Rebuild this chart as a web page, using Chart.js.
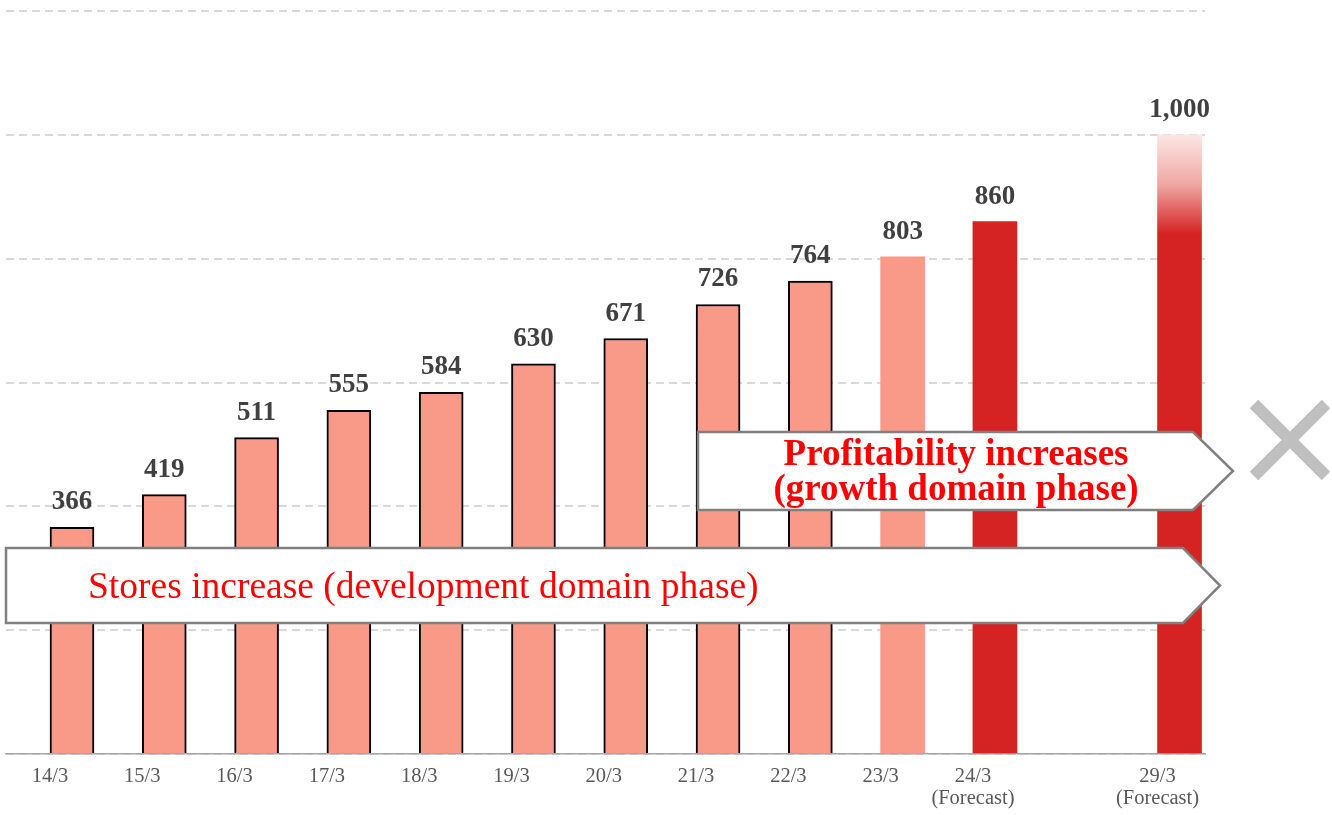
<!DOCTYPE html>
<html>
<head>
<meta charset="utf-8">
<script src="https://cdn.jsdelivr.net/npm/chart.js@4/dist/chart.umd.min.js"></script>
<style>
  html, body { margin: 0; padding: 0; background: #ffffff; }
  #wrap { width: 1332px; height: 815px; position: relative; }
</style>
</head>
<body>
<div id="wrap"><canvas id="c"></canvas></div>
<script>
// Fiscal years (an empty slot separates the near-term forecast from the long-term target)
const categories = ['14/3', '15/3', '16/3', '17/3', '18/3', '19/3', '20/3', '21/3', '22/3', '23/3', '24/3', '', '29/3'];
const tickNotes  = ['', '', '', '', '', '', '', '', '', '', '(Forecast)', '', '(Forecast)'];
// Number of stores
const storeCounts = [366, 419, 511, 555, 584, 630, 671, 726, 764, 803, 860, null, 1000];
// Bar style groups: results (outlined), latest result, forecast, long-term target
const barKinds = ['result', 'result', 'result', 'result', 'result', 'result', 'result', 'result', 'result', 'latest', 'forecast', null, 'target'];
const yTicks = [0, 200, 400, 600, 800, 1000, 1200];

const SERIF = '"Liberation Serif", "Times New Roman", serif';
const SALMON = '#F99A89';
const RED = '#D52323';

function barFill(ctx) {
  const kind = barKinds[ctx.dataIndex];
  if (kind === 'forecast') return RED;
  if (kind === 'target') {
    const chart = ctx.chart;
    const y = chart.scales.y;
    if (!y || !chart.chartArea) return RED;
    const top = y.getPixelForValue(storeCounts[ctx.dataIndex]);
    const bottom = y.getPixelForValue(0);
    const g = chart.ctx.createLinearGradient(0, top, 0, bottom);
    g.addColorStop(0, '#FCE6E3');
    g.addColorStop(0.08, '#EFA7A3');
    g.addColorStop(0.16, RED);
    g.addColorStop(1, RED);
    return g;
  }
  return SALMON;
}

// Value labels above each bar
const valueLabels = {
  id: 'valueLabels',
  afterDatasetsDraw(chart) {
    const ctx = chart.ctx;
    const meta = chart.getDatasetMeta(0);
    ctx.save();
    ctx.font = 'bold 27px ' + SERIF;
    ctx.fillStyle = '#404040';
    ctx.textAlign = 'center';
    ctx.textBaseline = 'alphabetic';
    meta.data.forEach((bar, i) => {
      const v = storeCounts[i];
      if (v == null) return;
      ctx.fillText(v.toLocaleString('en-US'), bar.x, bar.y - 18);
    });
    ctx.restore();
  }
};

// Phase arrows and the closing mark on the right
function arrowPath(ctx, left, top, bottom, shoulder, tip) {
  const mid = (top + bottom) / 2;
  ctx.beginPath();
  ctx.moveTo(left, top);
  ctx.lineTo(shoulder, top);
  ctx.lineTo(tip, mid);
  ctx.lineTo(shoulder, bottom);
  ctx.lineTo(left, bottom);
  ctx.closePath();
}

const phaseArrows = {
  id: 'phaseArrows',
  afterDraw(chart) {
    const ctx = chart.ctx;
    ctx.save();
    ctx.lineWidth = 2.5;
    ctx.strokeStyle = '#808080';
    ctx.fillStyle = '#ffffff';
    ctx.lineJoin = 'miter';

    // development phase
    arrowPath(ctx, 6, 548, 623, 1183, 1220);
    ctx.fill();
    ctx.stroke();
    ctx.fillStyle = '#FF0000';
    ctx.font = '37.5px ' + SERIF;
    ctx.textAlign = 'left';
    ctx.textBaseline = 'alphabetic';
    ctx.fillText('Stores increase (development domain phase)', 88, 598);

    // growth phase
    ctx.fillStyle = '#ffffff';
    arrowPath(ctx, 698, 432, 510, 1193, 1233);
    ctx.fill();
    ctx.stroke();
    ctx.fillStyle = '#FF0000';
    ctx.font = 'bold 37px ' + SERIF;
    ctx.textAlign = 'center';
    ctx.fillText('Profitability increases', 956, 465);
    ctx.fillText('(growth domain phase)', 956, 500);

    // multiplication mark
    ctx.strokeStyle = '#BFBFBF';
    ctx.lineWidth = 12;
    ctx.lineCap = 'butt';
    ctx.beginPath();
    ctx.moveTo(1254, 404); ctx.lineTo(1326, 476);
    ctx.moveTo(1326, 404); ctx.lineTo(1254, 476);
    ctx.stroke();
    ctx.restore();
  }
};

new Chart(document.getElementById('c'), {
  type: 'bar',
  data: {
    datasets: [{
      data: storeCounts.map((v, i) => ({ x: i, y: v })),
      backgroundColor: barFill,
      borderColor: '#000000',
      borderWidth: (ctx) => barKinds[ctx.dataIndex] === 'result' ? 2 : 0,
      borderSkipped: 'bottom',
      barThickness: 44
    }]
  },
  options: {
    responsive: true,
    maintainAspectRatio: false,
    animation: false,
    layout: { padding: { left: 6, right: 127, top: 11, bottom: 0 } },
    plugins: { legend: { display: false }, tooltip: { enabled: false } },
    scales: {
      x: {
        type: 'linear',
        offset: false,
        min: -0.715,
        max: 12.276,
        grid: { display: false },
        border: { display: true, color: '#A6A6A6', width: 1.5 },
        afterBuildTicks: (scale) => {
          scale.ticks = categories
            .map((c, i) => ({ value: i }))
            .filter(t => categories[t.value] !== '');
        },
        afterFit: (scale) => { scale.height = 61; },
        ticks: {
          autoSkip: false,
          maxRotation: 0,
          padding: 4,
          labelOffset: -22,
          color: '#595959',
          font: { family: SERIF, size: 20.5, lineHeight: 1.05 },
          callback: (value) => {
            const c = categories[value];
            const n = tickNotes[value];
            return n ? [c, n] : c;
          }
        }
      },
      y: {
        min: 0,
        max: 1200,
        afterBuildTicks: (scale) => { scale.ticks = yTicks.map(v => ({ value: v })); },
        afterFit: (scale) => { scale.width = 0; },
        grid: { color: '#D9D9D9', lineWidth: 2, drawTicks: false },
        border: { display: false, dash: [8, 5] },
        ticks: { display: false }
      }
    }
  },
  plugins: [valueLabels, phaseArrows]
});
</script>
</body>
</html>
